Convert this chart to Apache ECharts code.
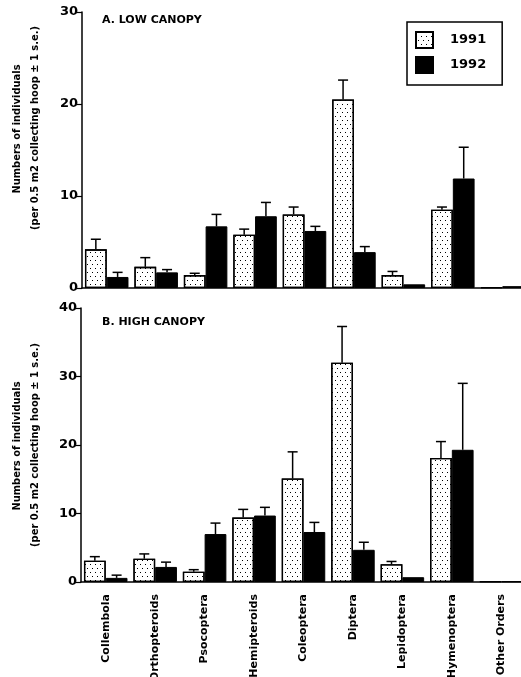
<!DOCTYPE html>
<html><head><meta charset="utf-8">
<script src="https://cdn.jsdelivr.net/npm/echarts@6/dist/echarts.min.js"></script>
<style>html,body{margin:0;padding:0;background:#fff}#c{width:521px;height:677px}</style>
</head><body><div id="c"></div>
<script>
const categories = ['Collembola','Orthopteroids','Psocoptera','Hemipteroids','Coleoptera','Diptera','Lepidoptera','Hymenoptera','Other Orders'];
const low1991 = [4.2, 2.3, 1.4, 5.8, 8.0, 20.5, 1.4, 8.5, 0.1];
const low1991Err = [1.1, 1.0, 0.2, 0.6, 0.8, 2.1, 0.4, 0.3, 0];
const low1992 = [1.2, 1.7, 6.7, 7.8, 6.2, 3.9, 0.4, 11.9, 0.2];
const low1992Err = [0.5, 0.3, 1.3, 1.5, 0.5, 0.6, 0, 3.4, 0];
const high1991 = [3.1, 3.4, 1.5, 9.4, 15.1, 32.0, 2.6, 18.1, 0.1];
const high1991Err = [0.6, 0.7, 0.3, 1.2, 3.9, 5.3, 0.4, 2.4, 0];
const high1992 = [0.6, 2.2, 7.0, 9.7, 7.3, 4.7, 0.7, 19.3, 0.1];
const high1992Err = [0.4, 0.7, 1.6, 1.2, 1.4, 1.1, 0, 9.7, 0];
const lowTicks = {min: 0, max: 30, interval: 10};
const highTicks = {min: 0, max: 40, interval: 10};
const panelTitles = ['A. LOW CANOPY', 'B. HIGH CANOPY'];
const yTitle1 = 'Numbers of individuals';
const yTitle2 = '(per 0.5 m2 collecting hoop \u00b1 1 s.e.)';

const FONT = 'DejaVu Sans';
const chart = echarts.init(document.getElementById('c'), null, {renderer: 'canvas'});

const dotDecal = {
  symbol: 'rect', symbolSize: 1, color: '#000',
  dashArrayX: [[1, 4], [0, 2, 1, 2]], dashArrayY: [1, 3], rotation: 0
};
const style91 = {color: '#fff', borderColor: '#000', borderWidth: 1.3, decal: dotDecal};
const style92 = {color: '#000', borderColor: '#000', borderWidth: 1};

function errRender(sign) {
  return function (params, api) {
    const e = api.value(2);
    if (!(e > 0)) return null;
    const i = api.value(0), v = api.value(1);
    const p0 = api.coord([i, v]);
    const p1 = api.coord([i, v + e]);
    const w = api.size([1, 0])[0];
    const cx = p0[0] + sign * w * 0.22;
    const hw = 5;
    const st = {stroke: '#000', lineWidth: 1.5};
    return {type: 'group', children: [
      {type: 'line', shape: {x1: cx, y1: p0[1], x2: cx, y2: p1[1]}, style: st},
      {type: 'line', shape: {x1: cx - hw, y1: p1[1], x2: cx + hw, y2: p1[1]}, style: st}
    ]};
  };
}
function errData(vals, errs) { return vals.map((v, i) => [i, v, errs[i]]); }

function xAxis(idx, showLabels) {
  return {
    type: 'category', gridIndex: idx, data: categories,
    axisLine: {lineStyle: {color: '#000', width: 1.5}},
    axisTick: {alignWithLabel: true, length: 4, lineStyle: {color: '#000', width: 1.2}},
    axisLabel: {show: showLabels, rotate: 90, interval: 0, color: '#000', fontFamily: FONT, fontWeight: 'bold', fontSize: 11, margin: 12},
    splitLine: {show: false}
  };
}
function yAxis(idx, t) {
  return {
    type: 'value', gridIndex: idx, min: t.min, max: t.max, interval: t.interval,
    axisLine: {show: true, lineStyle: {color: '#000', width: 1.5}},
    axisTick: {show: true, length: 5, lineStyle: {color: '#000', width: 1.2}},
    axisLabel: {color: '#000', fontFamily: FONT, fontWeight: 'bold', fontSize: 13, margin: 4},
    splitLine: {show: false}
  };
}
function barSeries(name, idx, data, st) {
  return {name: name, type: 'bar', xAxisIndex: idx, yAxisIndex: idx, data: data,
    barWidth: '44%', barGap: '0%', itemStyle: st, silent: true, animation: false};
}
function errSeries(idx, vals, errs, sign) {
  return {type: 'custom', name: 'err' + idx + sign, xAxisIndex: idx, yAxisIndex: idx,
    data: errData(vals, errs), encode: {x: 0, y: 1}, renderItem: errRender(sign), z: 1, animation: false, silent: true};
}
const titleStyle = {fill: '#000', font: 'bold 11px "' + FONT + '"'};
function rotText(x, y, t) {
  return {type: 'text', x: x, y: y, rotation: Math.PI / 2,
    style: {text: t, fill: '#000', font: 'bold 11px "DejaVu Sans Condensed"', align: 'center', verticalAlign: 'middle'}};
}

chart.setOption({
  backgroundColor: '#fff',
  animation: false,
  grid: [
    {left: 82, top: 12, width: 445, height: 276, outerBoundsMode: 'none', containLabel: false},
    {left: 81, top: 308, width: 445, height: 274, outerBoundsMode: 'none', containLabel: false}
  ],
  xAxis: [xAxis(0, false), xAxis(1, true)],
  yAxis: [yAxis(0, lowTicks), yAxis(1, highTicks)],
  legend: {
    data: ['1991', '1992'], orient: 'vertical', left: 407, top: 22,
    itemWidth: 17, itemHeight: 16, itemGap: 7,
    padding: [9, 16, 11, 8], borderColor: '#000', borderWidth: 1.5,
    icon: 'rect',
    textStyle: {color: '#000', fontFamily: FONT, fontWeight: 'bold', fontSize: 13, padding: [0, 0, 0, 12]},
    selectedMode: false
  },
  graphic: [
    {type: 'text', x: 102, y: 20, style: Object.assign({text: panelTitles[0], verticalAlign: 'middle'}, titleStyle)},
    {type: 'text', x: 102, y: 322, style: Object.assign({text: panelTitles[1], verticalAlign: 'middle'}, titleStyle)},
    rotText(17, 129, yTitle1), rotText(35, 128, yTitle2),
    rotText(17, 446, yTitle1), rotText(35, 445, yTitle2)
  ],
  series: [
    errSeries(0, low1991, low1991Err, -1),
    errSeries(0, low1992, low1992Err, 1),
    errSeries(1, high1991, high1991Err, -1),
    errSeries(1, high1992, high1992Err, 1),
    barSeries('1991', 0, low1991, style91),
    barSeries('1992', 0, low1992, style92),
    barSeries('1991', 1, high1991, style91),
    barSeries('1992', 1, high1992, style92)
  ]
});
</script></body></html>
